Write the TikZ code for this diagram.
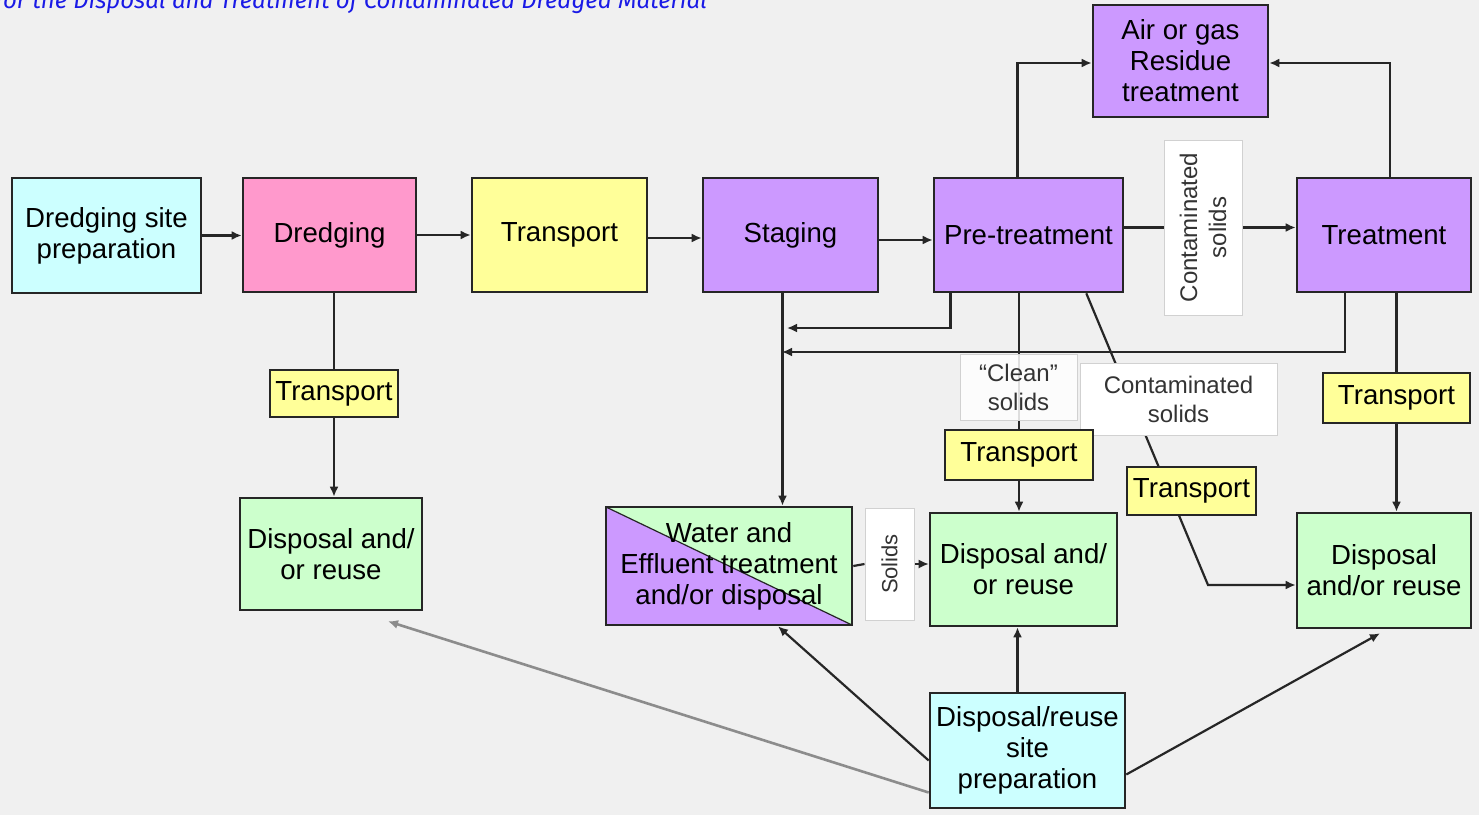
\documentclass[tikz,border=0pt]{standalone}
\usepackage{fontspec}
\setmainfont{Liberation Sans}
\newfontfamily\titlefont{Fira Sans}
\usetikzlibrary{arrows.meta,calc}

\definecolor{paper}{HTML}{F0F0F0}
\definecolor{cyanbox}{HTML}{CCFFFF}
\definecolor{pinkbox}{HTML}{FF99CC}
\definecolor{yellowbox}{HTML}{FFFF99}
\definecolor{purplebox}{HTML}{CC99FF}
\definecolor{greenbox}{HTML}{CCFFCC}
\definecolor{titleblue}{HTML}{1A1AE6}

\pgfdeclarelayer{bg}
\pgfdeclarelayer{lines}
\pgfsetlayers{bg,lines,main}

\tikzset{
  box/.style={draw=black!85, line width=1.3pt, inner sep=0pt, align=center,
    font=\fontsize{13.8}{15.5}\selectfont},
  tag/.style={box, fill=yellowbox, minimum height=24pt},
  note/.style={draw=black!18, fill=white, line width=0.5pt, inner sep=0pt,
    align=center, text=black!80, font=\fontsize{12}{14.5}\selectfont},
  link/.style={line width=1.1pt, draw=black!85},
  flow/.style={link, -{Latex[length=5pt,width=4.5pt]}},
}

\begin{document}
\begin{tikzpicture}[x=0.5pt,y=-0.5pt]
\useasboundingbox (0,0) rectangle (1479,815);
\begin{pgfonlayer}{bg}
  \fill[paper] (0,0) rectangle (1479,815);
\end{pgfonlayer}

\node[anchor=base west, inner sep=0pt, text=titleblue,
  font=\titlefont\itshape\fontsize{12}{14}\selectfont] (title) at (-5,8)
  {for the Disposal and Treatment of Contaminated Dredged Material};

% main row
\node[box, fill=cyanbox, minimum width=94.5pt, minimum height=57.5pt] (siteprep) at (106.5,235.5) {Dredging site\\preparation};
\node[box, fill=pinkbox, minimum width=86.5pt, minimum height=57pt] (dredging) at (329.5,235) {Dredging};
\node[box, fill=yellowbox, minimum width=87.5pt, minimum height=57pt] (transport) at (559.5,235) {Transport};
\node[box, fill=purplebox, minimum width=87.5pt, minimum height=57pt] (staging) at (790.5,235) {Staging};
\node[box, fill=purplebox, minimum width=94.5pt, minimum height=57pt] (pretreat) at (1028.5,235) {Pre-treatment};
\node[box, fill=purplebox, minimum width=87pt, minimum height=57pt] (treat) at (1384,235) {Treatment};
\node[box, fill=purplebox, minimum width=87.5pt, minimum height=56pt] (air) at (1180.5,61) {Air or gas\\Residue\\treatment};
\node[note, rotate=90, minimum width=87.5pt, minimum height=39pt] (contam1) at (1203,227.5) {Contaminated\\solids};

% transport tags and notes
\node[tag, minimum width=64pt, minimum height=23.5pt] (transA) at (334,393.5) {Transport};
\node[note, minimum width=58.5pt, minimum height=33pt, fill opacity=0.85, text opacity=1] (clean) at (1018.5,387) {“Clean”\\solids};
\node[note, minimum width=98.5pt, minimum height=36pt] (contam2) at (1178.5,399) {Contaminated\\solids};
\node[tag, minimum width=74pt, minimum height=25pt] (transB) at (1019,455) {Transport};
\node[tag, minimum width=64.5pt, minimum height=24pt] (transC) at (1191.5,491) {Transport};
\node[tag, minimum width=73.5pt, minimum height=25pt] (transD) at (1396.5,398) {Transport};

% end points
\node[box, fill=greenbox, minimum width=91pt, minimum height=56pt] (dispA) at (331,554) {Disposal and/\\or reuse};
\node[box, fill=greenbox, minimum width=123pt, minimum height=59pt,
  path picture={
    \fill[purplebox] (path picture bounding box.north west) -- (path picture bounding box.south east) -- (path picture bounding box.south west) -- cycle;
    \draw[line width=0.6pt] (path picture bounding box.north west) -- (path picture bounding box.south east);
  }] (water) at (729,566) {Water and\\Effluent treatment\\and/or disposal};
\node[note, rotate=90, minimum width=56pt, minimum height=24.5pt, font=\fontsize{11}{13}\selectfont] (solids) at (889.5,564) {Solids};
\node[box, fill=greenbox, minimum width=93.5pt, minimum height=56.5pt] (dispB) at (1023.5,569.5) {Disposal and/\\or reuse};
\node[box, fill=greenbox, minimum width=87pt, minimum height=57.5pt] (dispC) at (1384,570.5) {Disposal\\and/or reuse};
\node[box, fill=cyanbox, minimum width=97.5pt, minimum height=57.5pt] (siteprepB) at (1027.5,750.5) {Disposal/reuse\\site\\preparation};

\coordinate (backA) at (787,328);
\coordinate (backB) at (782,352);
\coordinate (bend) at (1208,585);

\begin{pgfonlayer}{lines}
  \draw[flow] (siteprep.east) -- (siteprep.east -| dredging.west);
  \draw[flow] (dredging.east) -- (dredging.east -| transport.west);
  \draw[flow] ([yshift=-1.5pt]transport.east) -- ([yshift=-1.5pt]transport.east -| staging.west);
  \draw[flow] ([yshift=-2.5pt]staging.east) -- ([yshift=-2.5pt]staging.east -| pretreat.west);
  \draw[link] (contam1.north -| pretreat.east) -- (contam1.north);
  \draw[flow] (contam1.south) -- (contam1.south -| treat.west);
  \draw[flow] ([xshift=-5.5pt]pretreat.north) |- ([yshift=-1pt]air.west);
  \draw[flow] ([xshift=3pt]treat.north) |- ([yshift=-1pt]air.east);

  \draw[link] (dredging.south -| transA.north) -- (transA.north);
  \draw[flow] (transA.south) -- (transA.south |- dispA.north);

  \draw[flow] ([xshift=-4pt]staging.south) -- ([xshift=-4pt]staging.south |- water.north);
  \draw[flow] ([xshift=-39pt]pretreat.south) |- (backA);
  \draw[flow] ([xshift=-19.5pt]treat.south) |- (backB);

  \draw[link] (pretreat.south -| transB.north) -- (transB.north);
  \draw[flow] (transB.south) -- (transB.south |- dispB.north);
  \draw[flow] ([xshift=-19pt]pretreat.south east) -- (bend) -- (bend -| dispC.west);
  \draw[link] (treat.south -| transD.north) -- (transD.north);
  \draw[flow] (transD.south) -- (transD.south |- dispC.north);

  \draw[link] (water.east) -- (solids.north);
  \draw[flow, line width=0.8pt] (solids.south) -- (solids.south -| dispB.west);

  \draw[flow] ([xshift=-5pt]siteprepB.north) -- ([xshift=-5pt]siteprepB.north |- dispB.south);
  \draw[flow] ([yshift=-5pt]siteprepB.west) -- ([xshift=24.5pt]water.south);
  \draw[flow, draw=black!45, line width=1.3pt] ([yshift=-21pt]siteprepB.west) -- ([xshift=28.5pt,yshift=-5pt]dispA.south);
  \draw[flow] ([yshift=-12pt]siteprepB.east) -- ([xshift=-2pt,yshift=-2pt]dispC.south);
\end{pgfonlayer}
\end{tikzpicture}
\end{document}
